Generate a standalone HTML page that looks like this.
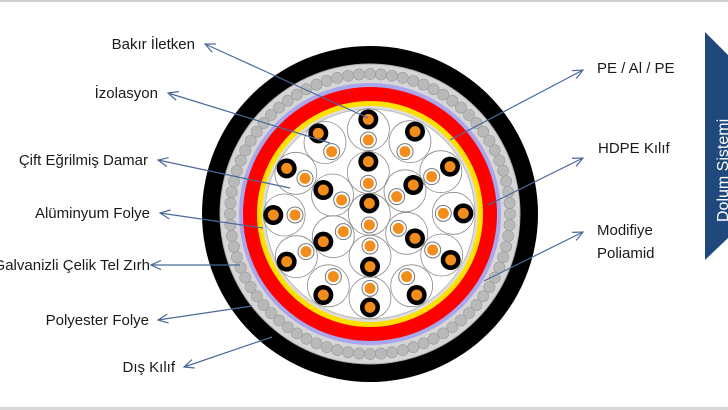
<!DOCTYPE html>
<html><head><meta charset="utf-8"><style>
html,body{margin:0;padding:0;background:#fff}
svg{display:block}
text{font-family:"Liberation Sans",sans-serif;font-size:15px;fill:#1a1a1a}
</style></head><body>
<svg id="s" width="728" height="410" viewBox="0 0 728 410" xmlns="http://www.w3.org/2000/svg">
<defs><marker id="a" markerWidth="12" markerHeight="10" refX="1" refY="5" orient="auto" markerUnits="userSpaceOnUse"><path d="M11,0.5 L1,5 L11,9.5" fill="none" stroke="#4a6a9a" stroke-width="1.2"/></marker></defs>
<rect x="0" y="0" width="728" height="2" fill="#cfcfcf"/>
<rect x="0" y="407" width="728" height="3" fill="#d8d8d8"/>
<circle cx="370" cy="214" r="168" fill="#000"/>
<circle cx="370" cy="214" r="150" fill="#d6d6d6" stroke="#aaa"/>
<g id="armor"></g>
<circle cx="370" cy="214" r="131" fill="#a9a6ee"/>
<circle cx="370" cy="214" r="127" fill="#f00"/>
<circle cx="370" cy="214" r="113" fill="#ffe000"/>
<circle cx="370" cy="214" r="108" fill="#ddd"/>
<circle cx="370" cy="214" r="105" fill="#fff" stroke="#bbb"/>
<g id="core"></g>
<g stroke="#4a6a9a" stroke-width="1.2" fill="none">
<line x1="205" y1="44" x2="368" y2="118" marker-start="url(#a)"/>
<line x1="168" y1="93" x2="330" y2="143" marker-start="url(#a)"/>
<line x1="158" y1="160" x2="290" y2="188" marker-start="url(#a)"/>
<line x1="160" y1="213" x2="263" y2="228" marker-start="url(#a)"/>
<line x1="151" y1="265" x2="240" y2="265" marker-start="url(#a)"/>
<line x1="158" y1="320" x2="252" y2="306" marker-start="url(#a)"/>
<line x1="184" y1="367" x2="272" y2="337" marker-start="url(#a)"/>
<line x1="583" y1="70" x2="450" y2="140" marker-start="url(#a)"/>
<line x1="583" y1="158" x2="488" y2="205" marker-start="url(#a)"/>
<line x1="583" y1="232" x2="484" y2="281" marker-start="url(#a)"/>
</g>
<g text-anchor="end">
<text x="195" y="49">Bakır İletken</text>
<text x="158" y="98">İzolasyon</text>
<text x="148" y="165">Çift Eğrilmiş Damar</text>
<text x="150" y="218">Alüminyum Folye</text>
<text x="150" y="270">Galvanizli Çelik Tel Zırh</text>
<text x="149" y="325">Polyester Folye</text>
<text x="175" y="372">Dış Kılıf</text>
</g>
<text x="597" y="73">PE / Al / PE</text>
<text x="598" y="153">HDPE Kılıf</text>
<text x="597" y="235">Modifiye</text>
<text x="597" y="258">Poliamid</text>
<polygon points="705,32 728,55 728,238 705,260" fill="#1f497d"/>
<text transform="translate(728,222) rotate(-90)" style="fill:#fff;font-size:16px">Dolum Sistemi</text>
</svg>
<script>
var NS="http://www.w3.org/2000/svg";
function c(g,x,y,r,f,s,w){var e=document.createElementNS(NS,"circle");e.setAttribute("cx",x);e.setAttribute("cy",y);e.setAttribute("r",r);e.setAttribute("fill",f);if(s){e.setAttribute("stroke",s);e.setAttribute("stroke-width",w||1);}g.appendChild(e);}
var A=document.getElementById("armor");
for(var i=0;i<80;i++){var t=i/80*2*Math.PI;c(A,370+140*Math.cos(t),214+140*Math.sin(t),5.6,"#b9b9b9","#999",0.6);}
var C=document.getElementById("core");
var d=[[565,268,1],[565,330,0],[565,395,1],[565,460,0],[568,520,1],[568,585,0],[570,648,0],[570,710,1],[570,775,0],[570,832,1],
[415,310,1],[455,365,0],[705,305,1],[675,365,0],[320,415,1],[375,445,0],[810,410,1],[755,440,0],[430,480,1],[485,510,0],[700,465,1],[650,500,0],
[280,555,1],[345,555,0],[850,550,1],[790,550,0],[430,635,1],[490,605,0],[705,625,1],[655,595,0],[320,695,1],[378,665,0],[812,690,1],[758,660,0],
[430,795,1],[460,740,0],[710,795,1],[680,740,0]];
for(var i=0;i<d.length;i+=2){var a=d[i],b=d[i+1];var x=((a[0]+b[0])/2)/3+180,y=((a[1]+b[1])/2)/3+30;c(C,x,y,21,"none","#888",0.8);}
d.forEach(function(p){var x=p[0]/3+180,y=p[1]/3+30;if(p[2]){c(C,x,y,10,"#000");}else{c(C,x,y,8,"#fff","#777",1);}c(C,x,y,5.5,"#f28c1a");});
</script>
</body></html>
